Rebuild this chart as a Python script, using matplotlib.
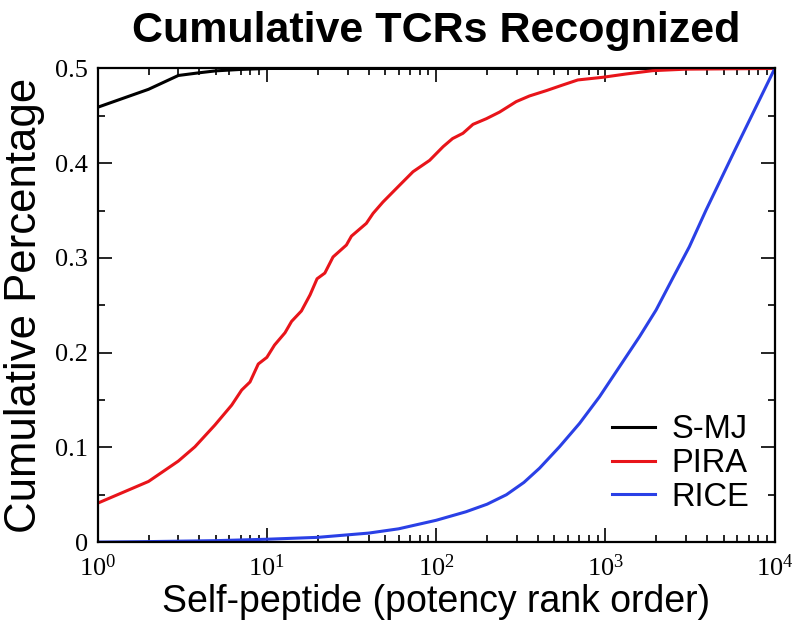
import math
import matplotlib
matplotlib.use("Agg")
import matplotlib.pyplot as plt
from matplotlib.ticker import FixedLocator, FuncFormatter, LogLocator, MultipleLocator

# ---- data ----
smj_x = [1, 2, 3, 4, 5, 7, 10, 10000]
smj_y = [0.459, 0.478, 0.4926, 0.4955, 0.4975, 0.499, 0.5, 0.5]

pira_x = [1, 2, 3, 3.76, 4.93, 6.2, 7.1, 7.95, 8.9, 10, 11.1, 12.8, 14, 16, 18, 19.8,
          22, 24.6, 29.5, 31.6, 38.7, 42.4, 48.5, 61, 73, 91.5, 110, 125, 144, 165,
          198, 237, 297, 356, 447, 560, 687, 964, 1325, 1900, 3000, 10000]
pira_y = [0.041, 0.064, 0.0855, 0.1006, 0.1235, 0.1446, 0.1605, 0.169, 0.188, 0.195,
          0.208, 0.221, 0.233, 0.244, 0.261, 0.278, 0.284, 0.301, 0.3136, 0.323,
          0.3365, 0.347, 0.359, 0.377, 0.391, 0.403, 0.4175, 0.426, 0.4316, 0.441,
          0.447, 0.454, 0.465, 0.471, 0.4766, 0.4826, 0.4879, 0.4907, 0.4942, 0.4977,
          0.4993, 0.5]

rice_x = [1, 2, 5, 10, 20, 40, 60, 100, 150, 200, 260, 330, 408, 535, 703, 922, 1210,
          1588, 1991, 2495, 3130, 3930, 5820, 10000]
rice_y = [0.0, 0.0005, 0.0015, 0.003, 0.005, 0.0095, 0.014, 0.023, 0.032, 0.040, 0.050,
          0.063, 0.078, 0.1006, 0.1253, 0.1534, 0.1851, 0.2168, 0.245, 0.2785, 0.3118,
          0.3506, 0.414, 0.5]

series_names = ["S-MJ", "PIRA", "RICE"]
series_colors = ["#000000", "#e8141a", "#2a40e6"]

y_ticks = [0, 0.1, 0.2, 0.3, 0.4, 0.5]
x_ticks = [1, 10, 100, 1000, 10000]

plt.rcParams['mathtext.fontset'] = 'custom'
plt.rcParams['mathtext.rm'] = 'Liberation Serif'
plt.rcParams['mathtext.it'] = 'Liberation Serif:italic'

fig = plt.figure(figsize=(7.93, 6.4), dpi=100)
ax = fig.add_axes([0.123, 0.153, 0.854, 0.740])

lw = 2.2
ax.plot(smj_x, smj_y, color=series_colors[0], lw=lw, label=series_names[0])
ax.plot(pira_x, pira_y, color=series_colors[1], lw=lw, label=series_names[1])
ax.plot(rice_x, rice_y, color=series_colors[2], lw=lw, label=series_names[2])

ax.set_xscale('log')
ax.set_xlim(1, 10000)
ax.set_ylim(0, 0.5)

ax.xaxis.set_major_locator(FixedLocator(x_ticks))
ax.xaxis.set_minor_locator(LogLocator(base=10, subs=range(2, 10), numticks=20))
ax.xaxis.set_major_formatter(FuncFormatter(lambda v, p: r'$\mathdefault{10^{%d}}$' % round(math.log10(v))))
ax.yaxis.set_major_locator(FixedLocator(y_ticks))
ax.yaxis.set_minor_locator(MultipleLocator(0.05))
ax.yaxis.set_major_formatter(FuncFormatter(lambda v, p: '0' if abs(v) < 1e-9 else '%.1f' % v))

ax.tick_params(which='both', direction='in', top=True, right=True, width=1.2, color='black')
ax.tick_params(which='major', length=10, pad=7)
ax.tick_params(which='minor', length=5)
ax.tick_params(axis='x', which='major', pad=9)
for lab in ax.get_xticklabels() + ax.get_yticklabels():
    lab.set_fontfamily('Liberation Serif')
    lab.set_fontsize(19)
for s in ax.spines.values():
    s.set_linewidth(1.6)

ax.set_xlabel('Self-peptide (potency rank order)', fontsize=27, family='Liberation Sans', labelpad=2)
ax.set_ylabel('Cumulative Percentage', fontsize=31.5, family='Liberation Sans', labelpad=7)
fig.suptitle('Cumulative TCRs Recognized', fontsize=31, fontweight='bold', family='Liberation Sans',
             x=0.55, y=0.983)

leg = ax.legend(loc='lower right', bbox_to_anchor=(0.963, 0.062), frameon=False,
                prop={'family': 'Liberation Sans', 'size': 23.5}, handlelength=1.32,
                handletextpad=0.51, labelspacing=0.08, borderaxespad=0, borderpad=0)

fig.savefig('out.png', dpi=100)
